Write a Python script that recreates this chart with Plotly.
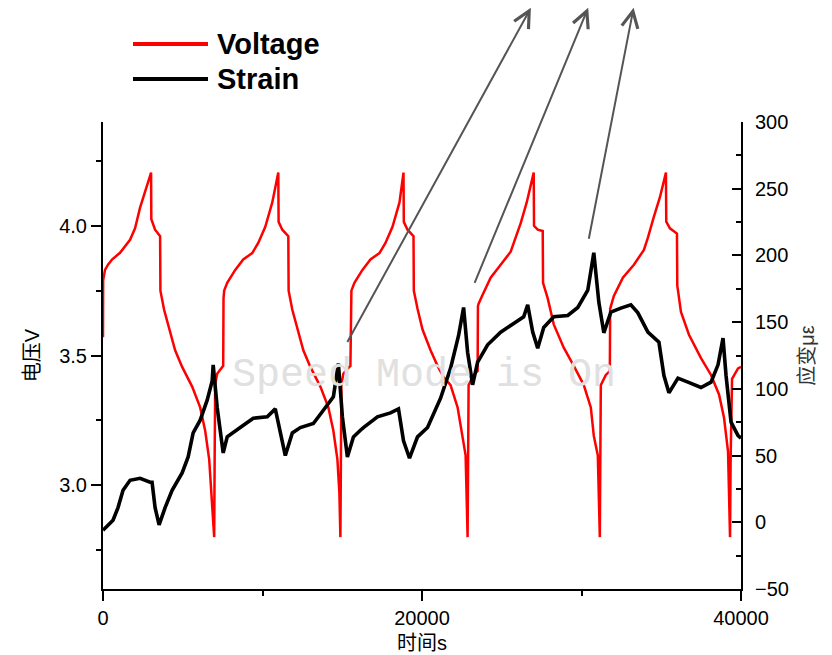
import plotly.graph_objects as go

# ---------------- data ----------------
volt_t = [0, 10, 126, 314, 565, 1068, 1696, 2010, 2324, 2638, 3014, 3030, 3266, 3580, 3600, 3831, 4145, 4522,
          4961, 5589, 6092, 6406, 6657, 6782, 6971,
          7000, 7034, 7159, 7348, 7536, 7556, 7599, 7787, 7976, 8290, 8792, 9357, 9734, 10174, 10613, 10990,
          11010, 11241, 11618, 11638, 11869, 12183, 12560, 13000, 13628, 14130, 14444, 14695, 14821, 14884,
          14915, 14946, 15072, 15260, 15512, 15532, 15574, 15763, 15951, 16265, 16768, 17333, 17710, 18150,
          18589, 18840,
          18860, 19092, 19468, 19488, 19719, 20033, 20536, 20975, 21352, 21792, 22231, 22545, 22734, 22859,
          22890, 22922, 23236, 23487, 23507, 23550, 23801, 24304, 24932, 25560, 26188, 26565, 27004,
          27024, 27255, 27569, 27589, 27883, 28260, 28888, 29516, 30144, 30584, 30772, 31023, 31149,
          31180, 31212, 31526, 31714, 31777, 31797, 32028, 32594, 33285, 33912, 34163, 34540, 34917, 35294,
          35314, 35545, 35985, 36005, 36236, 36738, 37492, 38120, 38622, 38936, 39187, 39313,
          39350, 39439, 39815, 40000]
volt_v = [3.57, 3.79, 3.83, 3.85, 3.87, 3.896, 3.946, 3.99, 4.07, 4.13, 4.205, 4.025, 3.985, 3.96, 3.75, 3.676, 3.60, 3.52,
          3.456, 3.38, 3.30, 3.21, 3.10, 2.97, 2.80,
          3.10, 3.39, 3.43, 3.445, 3.46, 3.72, 3.75, 3.78, 3.80, 3.83, 3.87, 3.895, 3.934, 3.996, 4.09, 4.205,
          4.015, 3.985, 3.96, 3.75, 3.676, 3.60, 3.52, 3.456, 3.38, 3.30, 3.21, 3.10, 2.97, 2.80,
          3.10, 3.39, 3.43, 3.445, 3.46, 3.72, 3.75, 3.78, 3.80, 3.83, 3.87, 3.895, 3.934, 3.996,
          4.09, 4.205,
          4.015, 3.985, 3.96, 3.75, 3.68, 3.60, 3.52, 3.46, 3.417, 3.386, 3.30, 3.19, 3.115, 2.80,
          3.10, 3.386, 3.425, 3.44, 3.69, 3.70, 3.734, 3.80, 3.85, 3.90, 4.01, 4.09, 4.205,
          4.0, 3.985, 3.98, 3.78, 3.72, 3.62, 3.53, 3.46, 3.386, 3.30, 3.19, 3.115, 2.80,
          3.10, 3.386, 3.425, 3.436, 3.44, 3.68, 3.73, 3.80, 3.85, 3.907, 3.954, 4.035, 4.11, 4.205,
          4.016, 3.99, 3.97, 3.77, 3.668, 3.58, 3.49, 3.425, 3.35, 3.26, 3.13, 2.80,
          3.10, 3.41, 3.45, 3.456]

strain_t = [0, 628, 942, 1256, 1696, 2324, 2952, 3077, 3266, 3517, 3894, 4333, 4961, 5338, 5652, 6092, 6531,
            6845, 6908, 7159, 7536, 7787, 8604, 9420, 10299, 10802, 11430, 11869, 12372, 13188, 13816,
            14444, 14758, 15009, 15323, 15700, 16140, 16328, 17207, 18024, 18526, 18840, 19217, 19719,
            20347, 20975, 21164, 21792, 22294, 22608, 22859, 23173, 23487, 24115, 24932, 25748, 26376,
            26627, 26941, 27255, 27632, 28260, 29139, 29767, 30395, 30772, 31086, 31400, 31840, 32468,
            33096, 33535, 34163, 34854, 35168, 35482, 36047, 36675, 37492, 38120, 38559, 38873, 39062,
            39376, 39815, 40000]
strain_v = [-6, 1.5, 11, 24, 31.5, 33, 30, 30, 11, -2, 11, 24, 37, 49, 67, 76.5, 91.5,
            106, 118, 86, 52, 64, 71, 78, 79, 85, 50, 67, 71, 74, 84,
            94, 119, 79, 49, 64, 69, 71, 79, 82, 85, 61, 48, 64,
            71, 89, 93, 115.5, 140, 161, 127.5, 103, 120, 133, 142.5, 149, 154,
            163, 142.5, 130.5, 146, 154, 155, 161, 174, 202, 165, 142, 157.5, 160.5,
            163, 157, 142.5, 135, 110, 97, 108, 105, 101, 105, 118, 138, 110,
            75, 65, 63]

# annotation arrows (tail inside plot, head above plot)
arrow_tail_t = [15323, 23299, 30458]
arrow_tail_v = [3.552, 3.78, 3.95]
arrow_head_t = [26878, 30458, 33284]
arrow_head_v = [4.846, 4.846, 4.846]

legend_names = ["Voltage", "Strain"]
legend_colors = ["#ff0000", "#000000"]

FONT = "Liberation Sans, Arial, Noto Sans CJK SC, sans-serif"

fig = go.Figure()
fig.add_trace(go.Scatter(x=volt_t, y=volt_v, mode="lines", name=legend_names[0],
                         line=dict(color=legend_colors[0], width=2.5), yaxis="y"))
fig.add_trace(go.Scatter(x=strain_t, y=strain_v, mode="lines", name=legend_names[1],
                         line=dict(color=legend_colors[1], width=3.6), yaxis="y2"))

annotations = []
for tt, tv, ht, hv in zip(arrow_tail_t, arrow_tail_v, arrow_head_t, arrow_head_v):
    annotations.append(dict(x=tt, y=tv, xref="x", yref="y", ax=ht, ay=hv, axref="x", ayref="y",
                            text="", showarrow=True, arrowside="start", startarrowhead=5,
                            startarrowsize=1.6, arrowwidth=2, arrowcolor="#555555",
                            standoff=0, startstandoff=0))

# watermark
annotations.append(dict(x=0.503, y=0.458, xref="paper", yref="paper", text="Speed Mode is On",
                        showarrow=False, font=dict(family="Liberation Mono, Courier New, monospace",
                                                   size=40, color="#e0e0e0")))

# custom legend
leg_y = [1.167, 1.092]
shapes = []
for name, col, yy in zip(legend_names, legend_colors, leg_y):
    shapes.append(dict(type="line", xref="paper", yref="paper", x0=0.047, x1=0.1646, y0=yy, y1=yy,
                       line=dict(color=col, width=4)))
    annotations.append(dict(x=0.175, y=yy, xref="paper", yref="paper", text="<b>%s</b>" % name,
                            xanchor="left", yanchor="middle", showarrow=False,
                            font=dict(family=FONT, size=29, color="#000000")))

fig.update_layout(
    width=832, height=655,
    margin=dict(l=103, r=91, t=122, b=66),
    paper_bgcolor="white", plot_bgcolor="white",
    showlegend=False,
    font=dict(family=FONT, size=20, color="#000000"),
    xaxis=dict(range=[0, 40000], dtick=20000, tick0=0, tickformat="d",
               showline=True, linecolor="#000000", linewidth=2, mirror=False,
               ticks="outside", ticklen=10, tickwidth=2, tickcolor="#000000",
               minor=dict(dtick=10000, ticks="outside", ticklen=5, tickwidth=2, tickcolor="#000000"),
               showgrid=False, zeroline=False, automargin=False,
               title=dict(text="时间s", font=dict(size=20), standoff=8)),
    yaxis=dict(range=[2.6, 4.4], dtick=0.5, tick0=0, tickformat=".1f",
               showline=True, linecolor="#000000", linewidth=2,
               ticks="outside", ticklen=10, tickwidth=2, tickcolor="#000000",
               minor=dict(dtick=0.25, ticks="outside", ticklen=5, tickwidth=2, tickcolor="#000000"),
               showgrid=False, zeroline=False, automargin=False,
               title=dict(text="电压V", font=dict(size=20), standoff=14)),
    yaxis2=dict(range=[-50, 300], dtick=50, tick0=0, overlaying="y", side="right",
                showline=True, linecolor="#000000", linewidth=2,
                ticks="inside", ticklen=9, tickwidth=2, tickcolor="#000000",
                ticklabelstandoff=8, automargin=False,
                minor=dict(dtick=25, ticks="inside", ticklen=5, tickwidth=2, tickcolor="#000000"),
                showgrid=False, zeroline=False,
                title=dict(text="应变με", font=dict(size=20, color="#333333"), standoff=12)),
    annotations=annotations,
    shapes=shapes,
)

fig.write_html("out.html")
